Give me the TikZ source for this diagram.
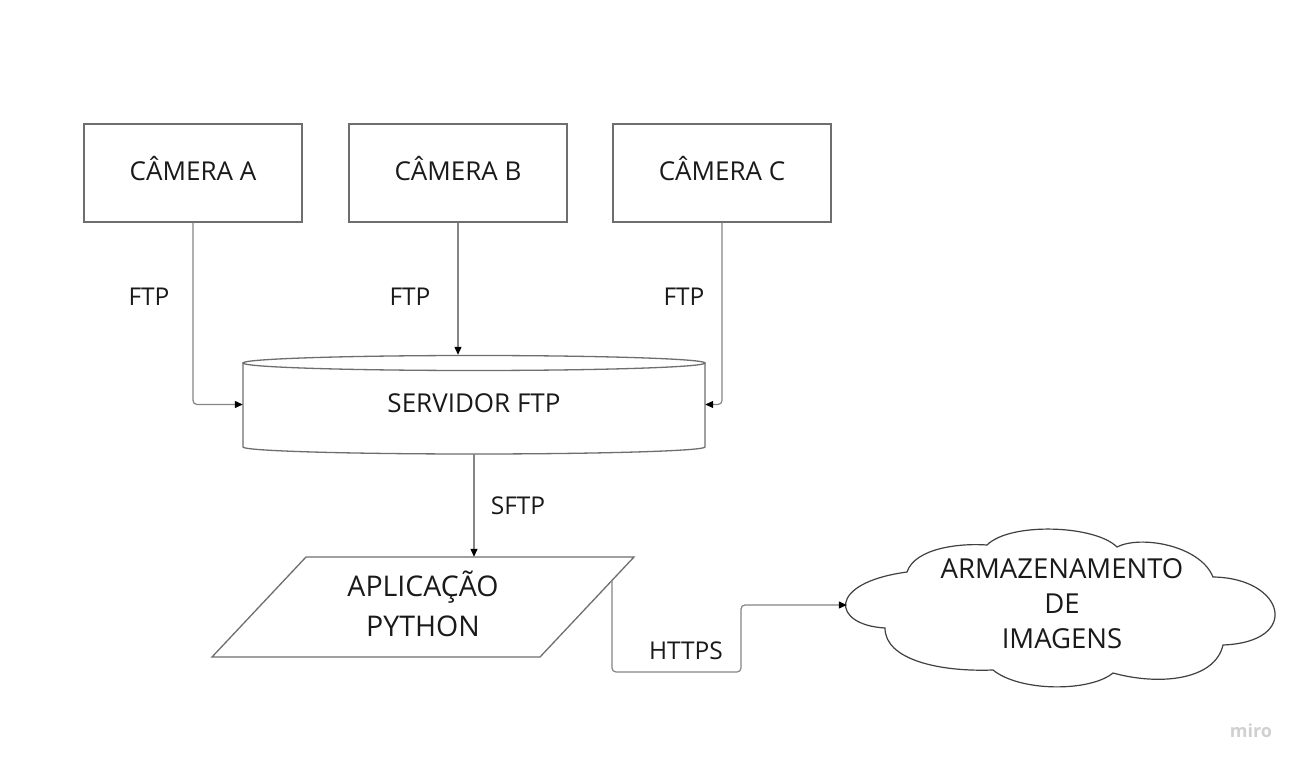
\documentclass[tikz,border=0pt]{standalone}
\usepackage{fontspec}
\setmainfont{Open Sans}
\usetikzlibrary{arrows.meta}
\definecolor{boxgray}{HTML}{6E6E6E}
\definecolor{linegray}{HTML}{858585}
\definecolor{txt}{HTML}{1A1A1A}
\definecolor{mirogray}{HTML}{D0D0D0}
\begin{document}
\begin{tikzpicture}[x=1pt,y=1pt,
  box/.style={draw=boxgray, line width=1.3pt, minimum width=218pt, minimum height=98pt,
    inner sep=0pt, font=\fontsize{26}{31}\selectfont, text=txt,
    text height=18.6pt, text depth=4pt},
  lbl/.style={font=\fontsize{24.5}{29}\selectfont, text=txt, inner sep=0pt},
  big/.style={font=\fontsize{27.5}{35}\selectfont, text=txt, inner sep=0pt, align=center},
  outline/.style={draw=boxgray, line width=1.3pt},
  conn/.style={draw=linegray, line width=1.2pt, rounded corners=4pt,
    -{Triangle[length=8pt,width=7pt,color=black]}}
]
\useasboundingbox[fill=white] (0,0) rectangle (1302,-767);

% cameras
\node[box] (ca) at (193,-173) {CÂMERA A};
\node[box] (cb) at (458,-173) {CÂMERA B};
\node[box] (cc) at (722,-173) {CÂMERA C};

% server cylinder
\node[minimum width=462pt, minimum height=99pt, inner sep=0pt] (srv) at (474,-404.5) {};
\draw[outline] (243,-363) -- (243,-447) arc[start angle=180, end angle=360, x radius=231, y radius=7] -- (705,-363);
\draw[outline] (474,-363) ellipse [x radius=231, y radius=7.5];
\node[font=\fontsize{26}{31}\selectfont, text=txt] (srvt) at (474,-403) {SERVIDOR FTP};

% application parallelogram
\node[minimum width=422pt, minimum height=100pt, inner sep=0pt] (app) at (423,-607) {};
\draw[outline] (212,-657) -- (306,-557) -- (634,-557) -- (540,-657) -- cycle;
\node[big, font=\fontsize{28.5}{40}\selectfont] (appt) at (423,-604) {APLICAÇÃO\\PYTHON};

% cloud
\node[minimum width=430pt, minimum height=155pt, inner sep=0pt] (cl) at (1062,-605) {};
\draw[outline, line width=1.2pt, draw=black!75]
  (885,-628) .. controls (832,-625) and (826,-583) .. (907,-572)
  .. controls (915,-548) and (960,-543) .. (987,-545)
  .. controls (1010,-522) and (1095,-525) .. (1117,-547)
  .. controls (1140,-535) and (1200,-545) .. (1213,-577)
  .. controls (1285,-578) and (1302,-642) .. (1223,-645)
  .. controls (1215,-680) and (1160,-686) .. (1113,-673)
  .. controls (1090,-692) and (1020,-692) .. (993,-670)
  .. controls (940,-672) and (885,-660) .. (885,-628) -- cycle;
\node[big] (clt) at (1062,-604) {ARMAZENAMENTO\\DE\\IMAGENS};

% connectors
\draw[conn] (ca.south) |- (srv.west);
\draw[conn] (cb.south) -- (cb.south |- srv.north);
\draw[conn] (cc.south) |- (srv.east);
\draw[conn] (srv.south) -- (srv.south |- app.north);
\coordinate (hs) at (612,-580);
\coordinate (hm) at (741,-672);
\draw[conn] (hs) |- (hm) |- (cl.west);

% labels
\node[lbl] (fa) at (149,-297) {FTP};
\node[lbl] (fb) at (410,-297) {FTP};
\node[lbl] (fc) at (684,-297) {FTP};
\node[lbl] (fs) at (518,-506) {SFTP};
\node[lbl] (fh) at (686,-651) {HTTPS};

% watermark
\node[font=\fontsize{18}{18}\selectfont\bfseries, text=mirogray] (miro) at (1251,-731) {miro};
\end{tikzpicture}
\end{document}
